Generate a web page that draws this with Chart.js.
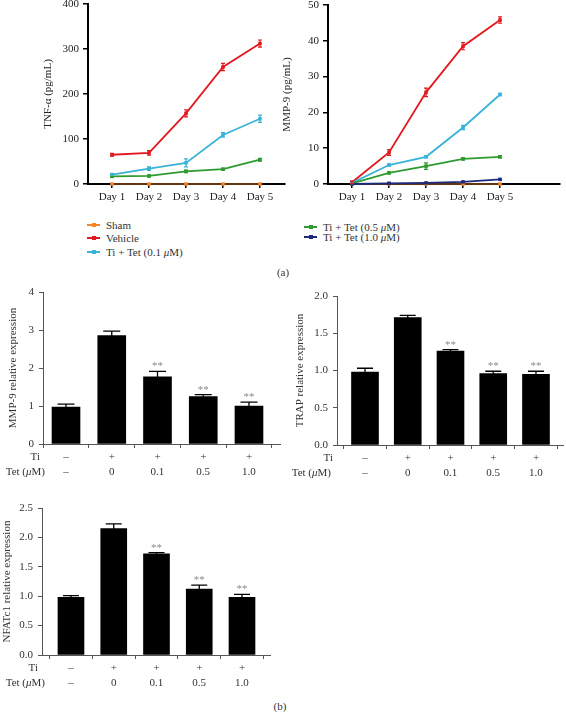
<!DOCTYPE html>
<html><head><meta charset="utf-8">
<script src="https://cdn.jsdelivr.net/npm/chart.js@4.4.0/dist/chart.umd.min.js"></script>
<style>
html,body{margin:0;padding:0;background:#fff;width:566px;height:712px;overflow:hidden;}
.box{position:absolute;}
.lg{position:absolute;font:11px "Liberation Serif",serif;color:#333;white-space:nowrap;line-height:12px;height:12px;}
.sw{position:absolute;left:0;top:5px;width:13px;height:2px;}
.mk{position:absolute;left:5px;top:-1px;width:4px;height:4px;}
.tx{position:absolute;left:19px;top:0;}
.pl{position:absolute;font:11px "Liberation Serif",serif;color:#333;width:40px;text-align:center;}
</style></head><body>
<script>
// ---------- data ----------
const days = ['Day 1','Day 2','Day 3','Day 4','Day 5'];
const seriesNames = ['Sham','Vehicle','Ti + Tet (0.1 μM)','Ti + Tet (0.5 μM)','Ti + Tet (1.0 μM)'];
const seriesColors = ['#f7862a','#e3171e','#3bb3d8','#2f9a2f','#1d2a7c'];

const tnfSham    = [0,0,0,0,0];
const tnfVehicle = [65,69,157,260,312];
const tnfTet01   = [21,34,47,109,145];
const tnfTet05   = [17,18,28,33,54];
const tnfVehicleErr = [3,5,8,8,8];
const tnfTet01Err   = [2,4,9,5,8];
const tnfTet05Err   = [2,2,3,2,3];

const mmpSham    = [0,0,0,0,0];
const mmpVehicle = [0.5,8.8,25.6,38.5,45.8];
const mmpTet01   = [0.3,5.3,7.6,15.8,25.0];
const mmpTet05   = [0.2,3.1,5.0,7.0,7.6];
const mmpTet10   = [0,0.2,0.3,0.6,1.3];
const mmpVehicleErr = [0.3,0.8,1.2,1.0,0.9];
const mmpTet01Err   = [0.1,0.3,0.3,0.6,0.3];
const mmpTet05Err   = [0.1,0.3,0.9,0.3,0.3];
const mmpTet10Err   = [0,0.1,0.1,0.1,0.1];

const groups = [1,2,3,4,5];
const tiRow  = ['–','+','+','+','+'];
const tetRow = ['–','0','0.1','0.5','1.0'];
const rowTitles = ['Ti','Tet (μM)'];
const sigMarks = ['','','**','**','**'];

const mmp9Expr    = [0.97,2.85,1.77,1.25,1.00];
const mmp9ExprErr = [0.08,0.12,0.14,0.05,0.10];
const trapExpr    = [0.98,1.71,1.26,0.96,0.95];
const trapExprErr = [0.05,0.03,0.02,0.03,0.04];
const nfatExpr    = [0.98,2.15,1.72,1.12,0.98];
const nfatExprErr = [0.03,0.08,0.02,0.07,0.05];

// ---------- helpers ----------
const FONT = '"Liberation Serif", serif';
const pts = (vals) => vals.map((v,i) => ({x: groups[i], y: v}));

function makeBox(area, W, padTop, padRight, H){
  const d = document.createElement('div'); d.className = 'box';
  d.style.left = (area.l - W) + 'px';
  d.style.top = (area.t - padTop) + 'px';
  d.style.width = (W + area.r - area.l + padRight) + 'px';
  d.style.height = (padTop + area.b - area.t + H) + 'px';
  const c = document.createElement('canvas'); d.appendChild(c);
  document.body.appendChild(d);
  return c;
}

function drawRich(ctx, text, right, y, size){
  const parts = text.split('μ');
  const segs = [];
  parts.forEach((p,i) => { if (p) segs.push([p,false]); if (i < parts.length-1) segs.push(['μ',true]); });
  let w = 0;
  segs.forEach(s => { ctx.font = (s[1]?'italic ':'') + size + 'px ' + FONT; s.w = ctx.measureText(s[0]).width; w += s.w; });
  let x = right - w;
  ctx.textAlign = 'left';
  segs.forEach(s => { ctx.font = (s[1]?'italic ':'') + size + 'px ' + FONT; ctx.fillText(s[0], x, y); x += s.w; });
}

const errPlugin = {
  id: 'errbars',
  afterDatasetsDraw(chart){
    const ctx = chart.ctx, ys = chart.scales.y;
    chart.data.datasets.forEach((ds, i) => {
      if (!ds.errors) return;
      const meta = chart.getDatasetMeta(i);
      ctx.save();
      ctx.strokeStyle = ds.errColor || ds.borderColor;
      ctx.lineWidth = ds.errWidth || 1.2;
      meta.data.forEach((el, j) => {
        const v = ds.data[j].y, e = ds.errors[j];
        const x = el.x;
        const yTop = ys.getPixelForValue(v + e);
        const yBot = ys.getPixelForValue(v - e);
        const cw = ds.capWidth || 4;
        if (e > 0) {
          ctx.beginPath();
          ctx.moveTo(x, yBot); ctx.lineTo(x, yTop);
          ctx.moveTo(x - cw/2, yTop); ctx.lineTo(x + cw/2, yTop);
          if (!ds.upOnly) { ctx.moveTo(x - cw/2, yBot); ctx.lineTo(x + cw/2, yBot); }
          ctx.stroke();
        }
        if (ds.sig && ds.sig[j]) {
          ctx.fillStyle = '#8a8a8a';
          ctx.font = '11px ' + FONT;
          ctx.textAlign = 'center'; ctx.textBaseline = 'alphabetic';
          ctx.fillText(ds.sig[j], x, yTop - 2);
        }
      });
      ctx.restore();
    });
  }
};

const rowPlugin = {
  id: 'rowLabels',
  afterDraw(chart, args, opts){
    if (!opts || !opts.on) return;
    const ctx = chart.ctx, a = chart.chartArea;
    const y0 = a.bottom + opts.off;
    ctx.save();
    ctx.fillStyle = '#333'; ctx.textBaseline = 'middle';
    drawRich(ctx, rowTitles[0], a.left + opts.tiDx, y0, 11);
    drawRich(ctx, rowTitles[1], a.left + opts.tetDx, y0 + opts.lh, 11);
    ctx.restore();
  }
};

function lineChart(area, W, titlePad, yTitle, yMax, yStep, xMin, xMax, datasets){
  const padTop = 12, padRight = 6, H = 30;
  const c = makeBox(area, W, padTop, padRight, H);
  return new Chart(c, {
    type: 'line',
    data: { datasets },
    options: {
      responsive: true, maintainAspectRatio: false, animation: false,
      layout: { padding: { left: 0, top: padTop, right: padRight, bottom: 0 } },
      plugins: { legend: { display: false }, tooltip: { enabled: false } },
      scales: {
        x: {
          type: 'linear', min: xMin, max: xMax,
          afterBuildTicks: s => { s.ticks = groups.map(v => ({ value: v })); },
          afterFit: s => { s.height = H; },
          border: { display: true, color: '#000', width: 2 },
          grid: { drawOnChartArea: false, drawTicks: true, tickLength: 4, color: '#000', lineWidth: 1.5 },
          ticks: { callback: v => days[v-1], padding: 3, maxRotation: 0, autoSkip: false,
                   color: '#222', font: { family: FONT, size: 11 } }
        },
        y: {
          min: 0, max: yMax,
          afterFit: s => { s.width = W; },
          border: { display: true, color: '#000', width: 2 },
          grid: { drawOnChartArea: false, drawTicks: true, tickLength: 5, color: '#000', lineWidth: 1.5 },
          ticks: { stepSize: yStep, padding: 4, color: '#222', font: { family: FONT, size: 11 } },
          title: { display: true, text: yTitle, color: '#222', font: { family: FONT, size: 11 },
                   padding: { top: titlePad, bottom: 0 } }
        }
      }
    },
    plugins: [errPlugin]
  });
}

function lineDs(idx, vals, errs, width){
  return {
    label: seriesNames[idx], data: pts(vals), errors: errs,
    borderColor: seriesColors[idx], backgroundColor: seriesColors[idx],
    borderWidth: width || 1.8, pointStyle: 'rect', pointRadius: 2.5, pointBorderWidth: 0,
    pointBackgroundColor: seriesColors[idx], tension: 0, clip: false, capWidth: 4, errWidth: 1.2
  };
}

function barChart(area, W, titlePad, yTitle, yMax, yStep, dec, xMin, xMax, vals, errs, barW, rowOpts){
  const padTop = 12, padRight = 4, H = 42;
  const c = makeBox(area, W, padTop, padRight, H);
  return new Chart(c, {
    type: 'bar',
    data: { datasets: [{
      data: pts(vals), errors: errs, sig: sigMarks, upOnly: true,
      backgroundColor: '#000', borderWidth: 0, barThickness: barW,
      errColor: '#000', errWidth: 1.3, capWidth: Math.round(barW*0.6)
    }]},
    options: {
      responsive: true, maintainAspectRatio: false, animation: false,
      layout: { padding: { left: 0, top: padTop, right: padRight, bottom: 0 } },
      plugins: { legend: { display: false }, tooltip: { enabled: false },
                 rowLabels: Object.assign({ on: true, off: 13, lh: 15 }, rowOpts) },
      scales: {
        x: {
          type: 'linear', min: xMin, max: xMax, offset: false,
          afterBuildTicks: s => { s.ticks = groups.map(v => ({ value: v })); },
          afterFit: s => { s.height = H; },
          border: { display: true, color: '#555', width: 1 },
          grid: { drawOnChartArea: false, drawTicks: true, tickLength: 4, color: '#555', lineWidth: 1 },
          ticks: { callback: v => [tiRow[v-1], tetRow[v-1]], padding: 1.5, maxRotation: 0, autoSkip: false,
                   color: '#333', font: { family: FONT, size: 11, lineHeight: 15/11 } }
        },
        y: {
          min: 0, max: yMax,
          afterFit: s => { s.width = W; },
          border: { display: true, color: '#555', width: 1 },
          grid: { drawOnChartArea: false, drawTicks: true, tickLength: 4, color: '#555', lineWidth: 1 },
          ticks: { stepSize: yStep, padding: 5, color: '#333', font: { family: FONT, size: 11 },
                   callback: v => v.toFixed(dec) },
          title: { display: true, text: yTitle, color: '#333', font: { family: FONT, size: 11 },
                   padding: { top: titlePad, bottom: 0 } }
        }
      }
    },
    plugins: [errPlugin, rowPlugin]
  });
}

// ---------- panel (a) ----------
lineChart({l:88,r:285,t:4,b:184}, 88, 41.4, 'TNF-α (pg/mL)', 400, 100, 0.351, 5.676, [
  lineDs(3, tnfTet05, tnfTet05Err),
  lineDs(2, tnfTet01, tnfTet01Err),
  lineDs(1, tnfVehicle, tnfVehicleErr),
  lineDs(0, tnfSham, [0,0,0,0,0], 0.8)
]);
lineChart({l:328,r:560,t:5,b:184}, 48, 0.4, 'MMP-9 (pg/mL)', 50, 10, 0.351, 6.62, [
  lineDs(4, mmpTet10, mmpTet10Err),
  lineDs(3, mmpTet05, mmpTet05Err),
  lineDs(2, mmpTet01, mmpTet01Err),
  lineDs(1, mmpVehicle, mmpVehicleErr),
  lineDs(0, mmpSham, [0,0,0,0,0], 0.8)
]);

// legend (HTML text)
const legendPos = [[87,219],[87,232],[87,246],[304,221],[304,231]];
seriesNames.forEach((name, i) => {
  const d = document.createElement('div'); d.className = 'lg';
  d.style.left = legendPos[i][0] + 'px'; d.style.top = legendPos[i][1] + 'px';
  const sw = document.createElement('div'); sw.className = 'sw'; sw.style.background = seriesColors[i];
  const mk = document.createElement('div'); mk.className = 'mk'; mk.style.background = seriesColors[i];
  sw.appendChild(mk);
  const tx = document.createElement('div'); tx.className = 'tx';
  tx.innerHTML = name.replace('μ', '<i>μ</i>');
  d.appendChild(sw); d.appendChild(tx);
  document.body.appendChild(d);
});

// ---------- panel (b) ----------
barChart({l:43,r:280,t:292,b:444}, 43, 6.4, 'MMP-9 relative expression', 4, 1, 0, 0.497, 5.678,
  mmp9Expr, mmp9ExprErr, 28, { tiDx: -3, tetDx: 2 });
barChart({l:337,r:563,t:296,b:445}, 57, 13.4, 'TRAP relative expression', 2, 0.5, 1, 0.345, 5.632,
  trapExpr, trapExprErr, 27, { tiDx: -4, tetDx: -6 });
barChart({l:42,r:270,t:508,b:655}, 42, 0.9, 'NFATc1 relative expression', 2.5, 0.5, 1, 0.322, 5.655,
  nfatExpr, nfatExprErr, 26, { tiDx: -4, tetDx: 3 });

// panel labels
[['(a)',263,266],['(b)',260,700]].forEach(p => {
  const d = document.createElement('div'); d.className = 'pl';
  d.textContent = p[0]; d.style.left = p[1] + 'px'; d.style.top = p[2] + 'px';
  document.body.appendChild(d);
});
</script>
</body></html>
